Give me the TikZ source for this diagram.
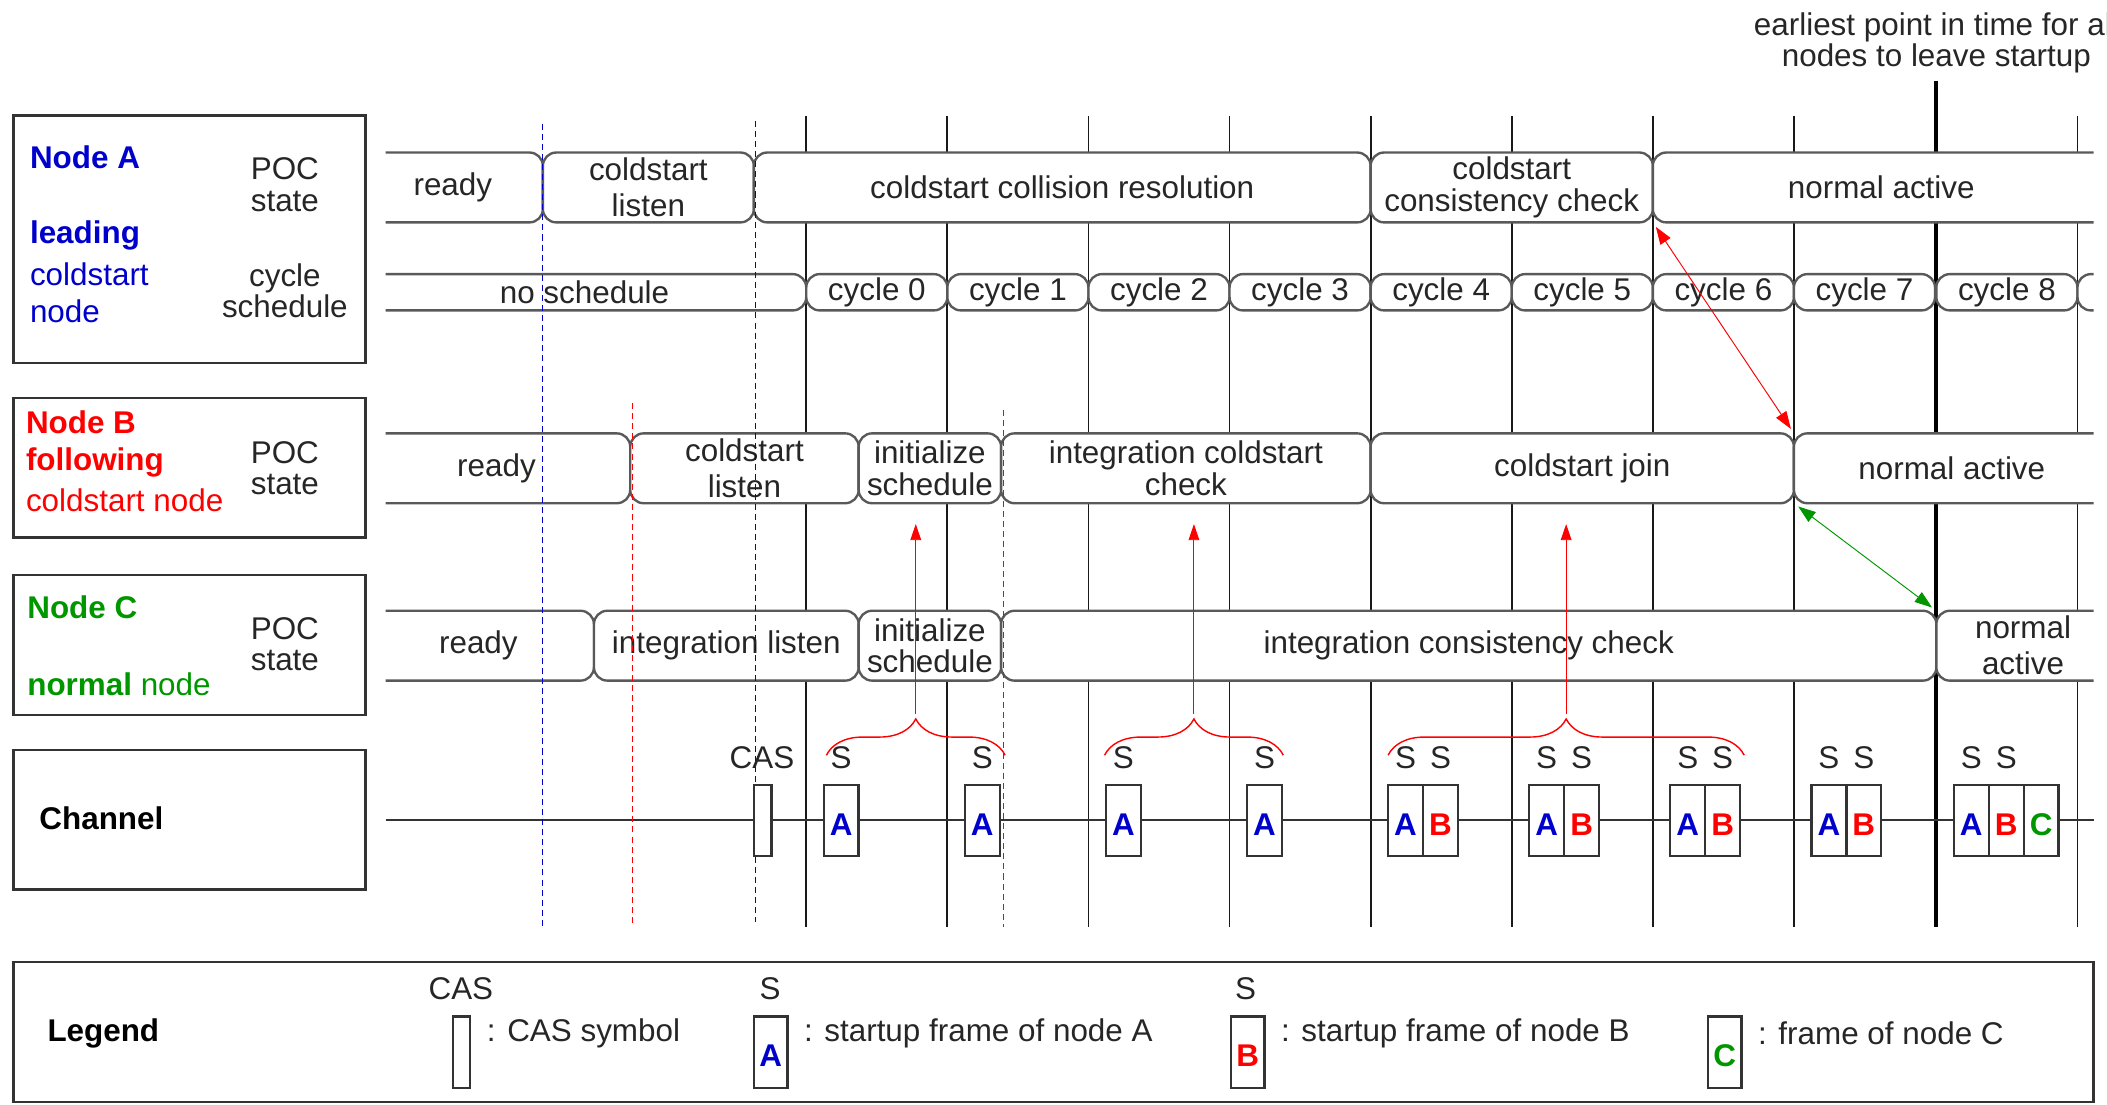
\documentclass[tikz,border=0pt]{standalone}
\usepackage{fontspec}
\setmainfont{Liberation Sans}
\usepackage{tikz}
\usetikzlibrary{arrows.meta,decorations.pathreplacing}
\definecolor{nodeblue}{RGB}{0,0,204}
\definecolor{nodered}{RGB}{255,0,0}
\definecolor{nodegreen}{RGB}{0,150,0}

\begin{document}
\begin{tikzpicture}[x=0.2mm,y=-0.2mm,font=\fontsize{13.3}{13.2}\selectfont,text=black!85,
  seg/.style={draw=black!65,line width=1pt,fill=white,rounded corners=2mm,inner sep=0pt,outer sep=0pt,align=center},
  frm/.style={draw=black!80,line width=1pt,fill=white,inner sep=0pt,minimum width=5.2mm,minimum height=10.6mm,text height=12.5pt,text depth=0pt},
  lbl/.style={anchor=west,inner sep=0pt},
  box/.style={draw=black!80,line width=1pt},
  cyc/.style={black!90,line width=0.8pt},
  blu/.style={nodeblue,line width=0.4pt,dash pattern=on 0.9mm off 0.6mm},
  rdd/.style={nodered,line width=0.4pt,dash pattern=on 0.9mm off 0.6mm},
  hint/.style={red,line width=0.4pt,-{Triangle[length=2.4mm,width=1.6mm]}},
  brc/.style={red,line width=0.6pt,decorate,decoration={brace,amplitude=5.4mm}},
  xlink/.style={line width=0.4pt,{Triangle[length=2.6mm,width=1.8mm]}-{Triangle[length=2.6mm,width=1.8mm]},shorten <=0.8mm,shorten >=0.8mm}]
\useasboundingbox (0,0) rectangle (1568,822);

\draw[box] (10,86) rectangle (272,270);
\draw[box] (10,296) rectangle (272,400);
\draw[box] (10,428) rectangle (272,532);
\draw[box] (10,558) rectangle (272,662);
\draw[box] (10,716) rectangle (1558,820);

\node[lbl,text=nodeblue] (na1) at (22,117) {\textbf{Node A}};
\node[lbl,text=nodeblue] (na2) at (22,175) {\textbf{leading}};
\node[lbl,text=nodeblue] (na3) at (22,204) {coldstart};
\node[lbl,text=nodeblue] (na4) at (22,232) {node};
\node[align=center] (pa) at (212,137.5) {POC\\state};
\node[align=center] (ca) at (212,216.5) {cycle\\schedule};
\node[lbl,text=nodered] (nb1) at (19,314) {\textbf{Node B}};
\node[lbl,text=nodered] (nb2) at (19,344) {\textbf{following}};
\node[lbl,text=nodered] (nb3) at (19,372) {coldstart node};
\node[align=center] (pb) at (212,348.5) {POC\\state};
\node[lbl,text=nodegreen] (nc1) at (20,452) {\textbf{Node C}};
\node[lbl,text=nodegreen] (nc2) at (20,509) {\textbf{normal} node};
\node[align=center] (pc) at (212,479.5) {POC\\state};
\node[lbl,text=black] (chan) at (29,609) {\textbf{Channel}};
\node[lbl,text=black] (leg) at (35,769) {\textbf{Legend}};

\foreach \xa in {600,705,810,915,1020,1125,1230,1335,1546} \draw[cyc] (\xa,86) -- (\xa,690);
\draw[black,line width=1.7pt] (1441,60) -- (1441,690);
\draw[black!80,line width=1pt] (287,610) -- (1558,610);

\begin{scope}
\clip (287,90) rectangle (1558,520);
\foreach \xa/\xb/\txt/\nm in {270/404/ready/aready, 404/561/{coldstart\\[2pt]listen}/alisten,
    561/1020/coldstart collision resolution/acoll, 1020/1230/{coldstart\\consistency check}/acons,
    1230/1570/normal active/aact}
  \node[seg,minimum width={(\xb-\xa)*0.2mm},minimum height=10.4mm] (\nm) at ({(\xa+\xb)/2},139.5) {\txt};
\node[seg,minimum width=66mm,minimum height=5.4mm] (nosched) at (435,217.5) {no schedule};
\foreach \xa [count=\i from 0] in {600,705,810,915,1020,1125,1230,1335,1441}
  \node[seg,minimum width=21mm,minimum height=5.4mm] (cyc\i) at (\xa+52.5,217.5) {cycle \i};
\node[seg,minimum width=21mm,minimum height=5.4mm] (cyc9) at (1598.5,217.5) {};
\foreach \xa/\xb/\txt/\nm in {270/469/ready/bready, 469/639/{coldstart\\[2pt]listen}/blisten,
    639/745/{initialize\\schedule}/binit, 745/1020/{integration coldstart\\check}/bicc,
    1020/1335/coldstart join/bjoin, 1335/1570/normal active/bact}
  \node[seg,minimum width={(\xb-\xa)*0.2mm},minimum height=10.4mm] (\nm) at ({(\xa+\xb)/2},348.5) {\txt};
\foreach \xa/\xb/\txt/\nm in {270/442/ready/cready, 442/639/integration listen/clisten,
    639/745/{initialize\\schedule}/cinit, 745/1441/integration consistency check/cicc,
    1441/1570/{normal\\[2pt]active}/cact}
  \node[seg,minimum width={(\xb-\xa)*0.2mm},minimum height=10.4mm] (\nm) at ({(\xa+\xb)/2},480.5) {\txt};
\end{scope}

\draw[blu] (404,92) -- (404,690);
\draw[blu] (562,90) -- (562,686);
\draw[rdd] (471,300) -- (471,690);
\draw[rdd] (747,305) -- (747,690);

\node[frm,minimum width=2.6mm] (cas) at (567.5,610.5) {};
\node (caslbl) at (567,564) {CAS};
\foreach \xa [count=\i from 0] in {600,705,810,915,1020,1125,1230,1335,1441} {
  \node[frm,text=nodeblue] (fa\i) at (\xa+26,610.5) {\textbf{A}};
  \node (sa\i) at (\xa+26,564) {S};
}
\foreach \xa [count=\i from 4] in {1020,1125,1230,1335,1441} {
  \node[frm,text=nodered] (fb\i) at (\xa+52,610.5) {\textbf{B}};
  \node (sb\i) at (\xa+52,564) {S};
}
\node[frm,text=nodegreen] (fc8) at (1519,610.5) {\textbf{C}};

\coordinate (b1l) at (615,562); \coordinate (b1r) at (748,562);
\coordinate (b2l) at (822,562); \coordinate (b2r) at (955,562);
\coordinate (b3l) at (1033,562); \coordinate (b3r) at (1298,562);
\draw[brc] (b1l) -- (b1r);
\draw[brc] (b2l) -- (b2r);
\draw[brc] (b3l) -- (b3r);
\coordinate (t1) at (681.5,531); \coordinate (h1) at (681.5,390);
\coordinate (t2) at (888.5,531); \coordinate (h2) at (888.5,390);
\coordinate (t3) at (1165.5,531); \coordinate (h3) at (1165.5,390);
\draw[hint] (t1) -- (h1);
\draw[hint] (t2) -- (h2);
\draw[hint] (t3) -- (h3);

\draw[xlink,red] (acons.south east) -- (bjoin.north east);
\draw[xlink,nodegreen] (bjoin.south east) -- (cicc.north east);

\node[align=center] (early) at (1441,32) {earliest point in time for all\\nodes to leave startup};

\node[frm,minimum width=2.6mm] (lcas) at (343.5,783) {};
\node (lcasl) at (343,736) {CAS};
\node[lbl] (lcast) at (362,769) {: CAS symbol};
\node[frm,minimum width=5mm,text=nodeblue] (lfa) at (573.5,783) {\textbf{A}};
\node (lsa) at (573,736) {S};
\node[lbl] (lfat) at (598,769) {: startup frame of node A};
\node[frm,minimum width=5mm,text=nodered] (lfb) at (928.5,783) {\textbf{B}};
\node (lsb) at (927,736) {S};
\node[lbl] (lfbt) at (953,769) {: startup frame of node B};
\node[frm,minimum width=5mm,text=nodegreen] (lfc) at (1283.5,783) {\textbf{C}};
\node[lbl] (lfct) at (1308,769) {: frame of node C};
\end{tikzpicture}
\end{document}
